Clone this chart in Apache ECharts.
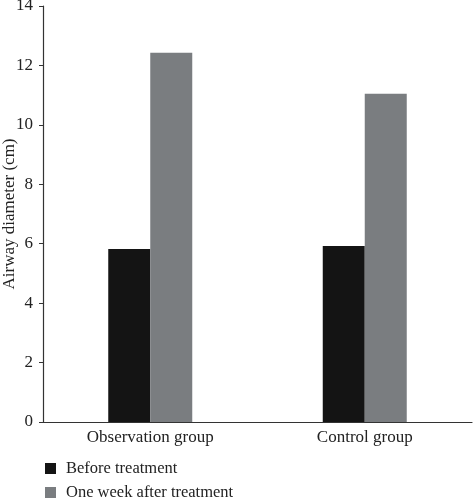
<!DOCTYPE html>
<html><head><meta charset="utf-8">
<script src="https://cdn.jsdelivr.net/npm/echarts@6/dist/echarts.min.js"></script>
<style>html,body{margin:0;padding:0;background:#fff}#c{width:473px;height:498px}</style>
</head><body><div id="c"></div>
<script>
const categories = ["Observation group", "Control group"];
const seriesNames = ["Before treatment", "One week after treatment"];
const beforeValues = [5.82, 5.92];
const afterValues = [12.43, 11.05];
const yTicks = [0, 2, 4, 6, 8, 10, 12, 14];

const font = "'Liberation Serif', 'Times New Roman', serif";
const legendText = { fontFamily: font, fontSize: 16.5, color: '#222', padding: [0, 0, 0, 5] };
const legendBase = { left: 45, padding: 0, icon: 'rect', itemWidth: 11, itemHeight: 11,
  textStyle: legendText };
const chart = echarts.init(document.getElementById('c'));
chart.setOption({
  animation: false,
  textStyle: { fontFamily: font },
  grid: { left: 43, right: 1, top: 6, bottom: 76, containLabel: false, outerBoundsMode: 'none' },
  legend: [
    Object.assign({ top: 460, data: [seriesNames[0]] }, legendBase),
    Object.assign({ top: 484, data: [seriesNames[1]] }, legendBase)
  ],
  xAxis: {
    type: 'category', data: categories,
    axisLine: { lineStyle: { color: '#333', width: 1.2 } },
    axisTick: { show: false },
    axisLabel: { fontFamily: font, fontSize: 17, color: '#222', margin: 7 }
  },
  yAxis: {
    type: 'value', min: yTicks[0], max: yTicks[yTicks.length - 1], interval: 2,
    name: 'Airway diameter (cm)', nameLocation: 'middle', nameGap: 25, nameMoveOverlap: false,
    nameTextStyle: { fontFamily: font, fontSize: 17, color: '#222' },
    axisLine: { show: true, lineStyle: { color: '#333', width: 1.2 } },
    axisTick: { show: true, length: 4, lineStyle: { color: '#333' } },
    axisLabel: { fontFamily: font, fontSize: 17, color: '#222', margin: 10 },
    splitLine: { show: false }
  },
  series: [
    { name: seriesNames[0], type: 'bar', data: beforeValues, barWidth: 42, barGap: '0%',
      itemStyle: { color: '#141414' } },
    { name: seriesNames[1], type: 'bar', data: afterValues, barWidth: 42, barGap: '0%',
      itemStyle: { color: '#7a7d80' } }
  ]
});
</script></body></html>
